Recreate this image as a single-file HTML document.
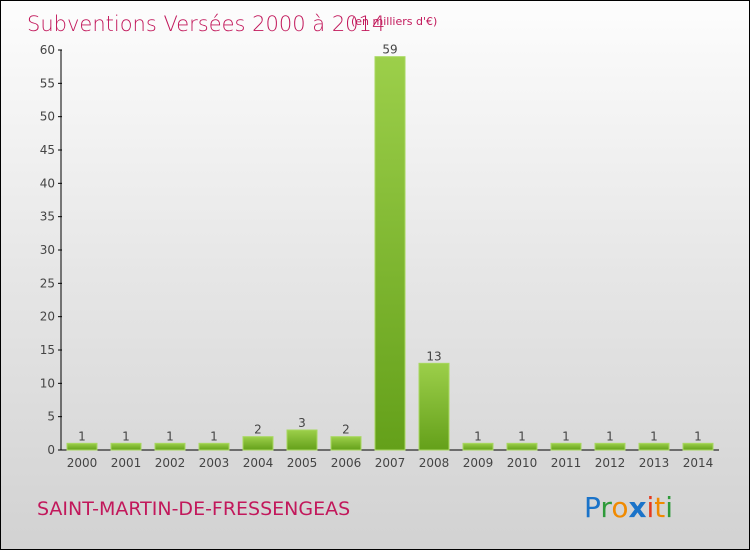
<!DOCTYPE html>
<html><head><meta charset="utf-8"><style>
body{margin:0}
#c{position:relative;width:748px;height:548px;border:1px solid #000;background:linear-gradient(#fdfdfd,#e6e6e6 50%,#d2d2d2);font-family:"DejaVu Sans","Liberation Sans",sans-serif;overflow:hidden}
</style></head><body>
<div id="c">
<svg width="748" height="548" style="position:absolute;left:0;top:0" id="s">
<defs><linearGradient id="g" x1="0" y1="0" x2="0" y2="1"><stop offset="0" stop-color="#9ccf4a"/><stop offset="1" stop-color="#64a01a"/></linearGradient></defs>
<text x="26" y="30" font-size="21" fill="#c2185b" font-weight="200">Subventions Versées 2000 à 2014</text>
<text x="350" y="24" font-size="11" fill="#c2185b">(en milliers d'€)</text>
<text x="36" y="514" font-size="19" fill="#c2185b">SAINT-MARTIN-DE-FRESSENGEAS</text>
<g font-size="28" font-family="DejaVu Sans,sans-serif">
<text x="583" y="516"><tspan fill="#1a73c9">P</tspan><tspan fill="#2e9a3a">r</tspan><tspan fill="#f08a00">o</tspan><tspan fill="#1a73c9" font-weight="bold">x</tspan><tspan fill="#e53a1e">i</tspan><tspan fill="#f08a00">t</tspan><tspan fill="#2e9a3a">i</tspan></text></g>
<g id="ax"></g><g id="bars"></g>
</svg></div>
<script>
const categories=["2000","2001","2002","2003","2004","2005","2006","2007","2008","2009","2010","2011","2012","2013","2014"];
const values=[1,1,1,1,2,3,2,59,13,1,1,1,1,1,1];
const yTicks=[0,5,10,15,20,25,30,35,40,45,50,55,60];
const NS="http://www.w3.org/2000/svg";
const y=v=>449-v*(400/60);
const x=i=>81+i*44;
function mk(t,a,p){const e=document.createElementNS(NS,t);for(const k in a)e.setAttribute(k,a[k]);p.appendChild(e);return e;}
const ax=document.getElementById('ax'),bars=document.getElementById('bars');
const yl=mk('line',{x1:60,y1:y(60),x2:60,y2:449,stroke:'#000'},ax);


const xl=mk('line',{x1:60,y1:449,x2:718,y2:449,stroke:'#000'},ax);


yTicks.forEach(v=>{
 mk('line',{x1:57,y1:y(v),x2:61,y2:y(v),stroke:'#000'},ax);
 const t=mk('text',{x:54,y:y(v)+4,'font-size':12,'text-anchor':'end',fill:'#444'},ax);t.textContent=v;
 
 
});
categories.forEach((c,i)=>{
 const r=mk('rect',{x:x(i)-15,y:y(values[i]),width:30,height:449-y(values[i]),fill:'url(#g)',stroke:'#a8d860','stroke-width':1},bars);
 
 
 const l=mk('text',{x:x(i),y:y(values[i])-3,'font-size':12,'text-anchor':'middle',fill:'#444'},bars);l.textContent=values[i];
 
 
 const t=mk('text',{x:x(i),y:466,'font-size':12,'text-anchor':'middle',fill:'#444'},ax);t.textContent=c;
 
 
});
</script>
</body></html>
